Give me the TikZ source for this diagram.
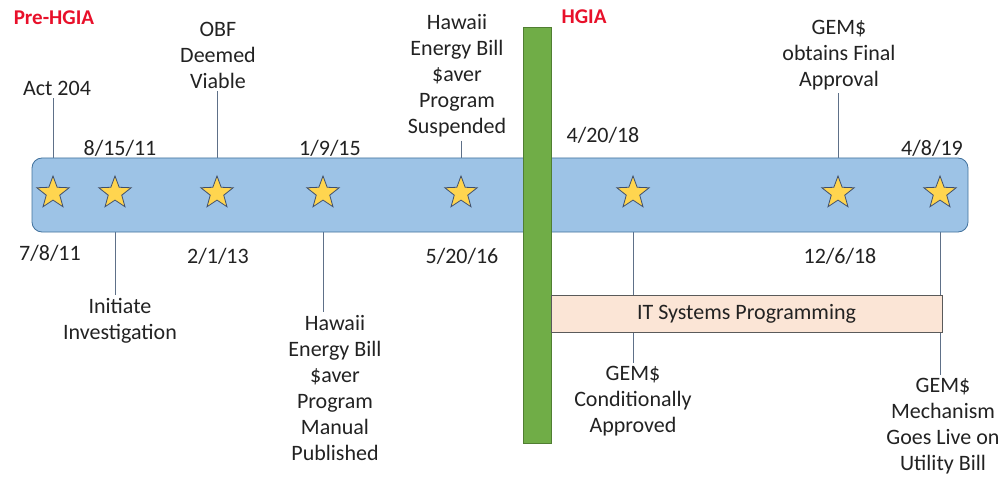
\documentclass[tikz,border=0pt]{standalone}
\usepackage{fontspec}
\setmainfont{Carlito}
\usetikzlibrary{shapes.geometric}
\pgfdeclarelayer{background}
\pgfsetlayers{background,main}
\definecolor{bandfill}{HTML}{9DC3E6}
\definecolor{banddraw}{HTML}{41719C}
\definecolor{starfill}{HTML}{FFD54F}
\definecolor{stardraw}{HTML}{3E4F6E}
\definecolor{greenfill}{HTML}{70AD47}
\definecolor{greendraw}{HTML}{507E32}
\definecolor{orangefill}{HTML}{FBE5D6}
\definecolor{orangedraw}{HTML}{5A5A5A}
\definecolor{txt}{HTML}{222222}
\definecolor{redlbl}{HTML}{E8102A}
\definecolor{conn}{HTML}{5E7088}
\begin{document}
\begin{tikzpicture}[x=1pt,y=-1pt,
  lbl/.style={text=txt,font=\fontsize{22}{26}\selectfont,align=center,inner sep=3pt},
  era/.style={text=redlbl,font=\fontsize{21}{24}\selectfont\bfseries,inner sep=0pt},
  starmark/.style={star,star points=5,star point ratio=2.4,minimum size=34pt,inner sep=0pt,
    fill=starfill,draw=stardraw,line width=0.8pt},
  connector/.style={draw=conn,line width=0.8pt}]
\useasboundingbox (0,0) rectangle (1003,481);
% band
\node[draw=banddraw,fill=bandfill,rounded corners=10pt,line width=0.8pt,minimum width=936pt,minimum height=74pt,inner sep=0pt] (band) at (500,195) {};
% green bar
\node[draw=greendraw,fill=greenfill,line width=0.8pt,minimum width=28pt,minimum height=416pt,inner sep=0pt] (gbar) at (537,235) {};
% orange bar
\node[draw=orangedraw,fill=orangefill,line width=0.8pt,minimum width=391pt,minimum height=37pt,inner sep=0pt,text=txt,font=\fontsize{22}{26}\selectfont] (itbar) at (746.5,313.5) {IT Systems Programming};
% stars
\node[starmark] (s1) at (53,193) {};
\node[starmark] (s2) at (115,193) {};
\node[starmark] (s3) at (217,193) {};
\node[starmark] (s4) at (323,193) {};
\node[starmark] (s5) at (461,193) {};
\node[starmark] (s6) at (633,193) {};
\node[starmark] (s7) at (838,193) {};
\node[starmark] (s8) at (940,193) {};
% era labels
\node[era] (pre) at (54,18) {Pre-HGIA};
\node[era] (hgia) at (584,17) {HGIA};
% dates
\node[lbl] (d1) at (50,253) {7/8/11};
\node[lbl] (d2) at (120,148) {8/15/11};
\node[lbl] (d3) at (218,256) {2/1/13};
\node[lbl] (d4) at (330,148) {1/9/15};
\node[lbl] (d5) at (462,256) {5/20/16};
\node[lbl] (d6) at (603,135) {4/20/18};
\node[lbl] (d7) at (840,256) {12/6/18};
\node[lbl] (d8) at (932,148) {4/8/19};
% events
\node[lbl] (e1) at (57,88) {Act 204};
\node[lbl] (e2) at (120,321) {Initiate\\Investigation};
\node[lbl] (e3) at (218,55) {OBF\\Deemed\\Viable};
\node[lbl] (e4) at (335,388) {Hawaii\\Energy Bill\\\$aver\\Program\\Manual\\Published};
\node[lbl] (e5) at (457,76) {Hawaii\\Energy Bill\\\$aver\\Program\\Suspended};
\node[lbl] (e6) at (633,401) {GEM\$\\Conditionally\\Approved};
\node[lbl] (e7) at (839,55) {GEM\$\\obtains Final\\Approval};
\node[lbl] (e8) at (943,426) {GEM\$\\Mechanism\\Goes Live on\\Utility Bill};
% connectors
\begin{pgfonlayer}{background}
\path[connector] (s1 |- e1.south) -- (s1.center);
\path[connector] (s2.center) -- (s2 |- e2.north);
\path[connector] (s3 |- e3.south) -- (s3.center);
\path[connector] (s4.center) -- (s4 |- e4.north);
\path[connector] (s5 |- e5.south) -- (s5.center);
\path[connector] (s6.center) -- (s6 |- e6.north);
\path[connector] (s7 |- e7.south) -- (s7.center);
\path[connector] (s8.center) -- (s8 |- e8.north);
\end{pgfonlayer}
\end{tikzpicture}
\end{document}
